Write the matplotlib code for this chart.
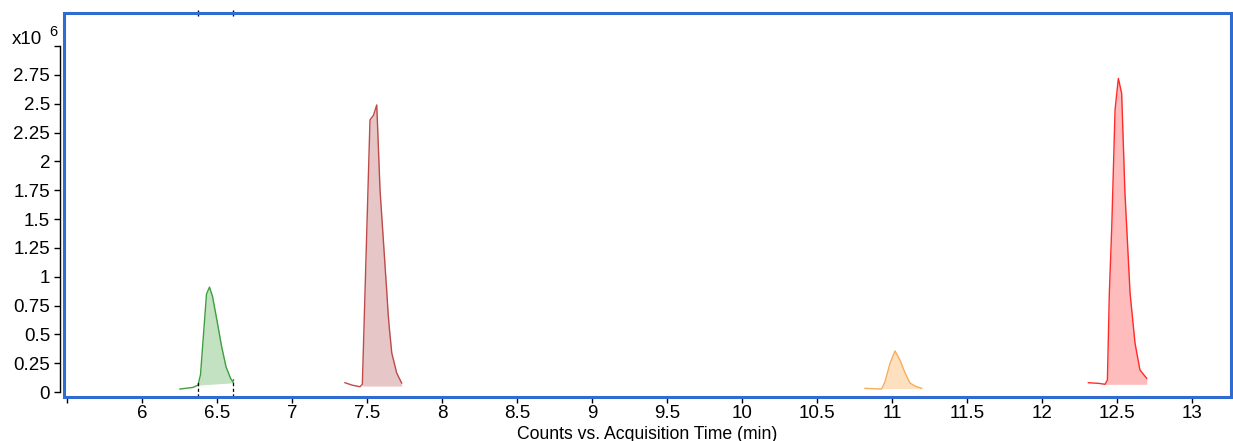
import numpy as np
import matplotlib.pyplot as plt
from matplotlib.patches import Rectangle

plt.rcParams['font.family'] = ['Liberation Sans', 'DejaVu Sans']

# acquisition time (min) and counts (x10^6) for each peak
t_green = [6.253, 6.34, 6.373, 6.39, 6.41, 6.43, 6.45, 6.47, 6.50, 6.53, 6.56, 6.59, 6.61]
v_green = [0.026, 0.04, 0.06, 0.15, 0.50, 0.85, 0.91, 0.83, 0.62, 0.40, 0.22, 0.12, 0.08]

t_brown = [7.353, 7.40, 7.453, 7.469, 7.52, 7.543, 7.565, 7.587, 7.631, 7.641, 7.65, 7.665, 7.698, 7.731]
v_brown = [0.081, 0.06, 0.046, 0.067, 2.36, 2.40, 2.49, 1.75, 0.885, 0.68, 0.54, 0.34, 0.165, 0.078]

t_orange = [10.82, 10.931, 10.953, 10.987, 11.02, 11.053, 11.087, 11.12, 11.153, 11.198]
v_orange = [0.032, 0.026, 0.089, 0.25, 0.356, 0.278, 0.165, 0.078, 0.052, 0.032]

t_red = [12.309, 12.38, 12.42, 12.436, 12.449, 12.465, 12.487, 12.509, 12.531, 12.553, 12.587, 12.62, 12.653, 12.698]
v_red = [0.081, 0.075, 0.067, 0.104, 0.86, 1.43, 2.446, 2.72, 2.59, 1.726, 0.859, 0.425, 0.191, 0.119]

# integration windows (start, end) and baseline levels at them
win_green = (6.373, 6.607); base_green = (0.06, 0.08)
win_brown = (7.469, 7.731); base_brown = (0.052, 0.052)
win_orange = (10.931, 11.198); base_orange = (0.03, 0.03)
win_red = (12.42, 12.698); base_red = (0.067, 0.067)

peaks = [
    (t_green, v_green, win_green, base_green, '#3f9e3f', '#c2e2c2'),
    (t_brown, v_brown, win_brown, base_brown, '#bf4a4a', '#e6c6c6'),
    (t_orange, v_orange, win_orange, base_orange, '#f7ad5a', '#fde0c0'),
    (t_red, v_red, win_red, base_red, '#ff2a2a', '#ffbcbc'),
]

fig = plt.figure(figsize=(12.33, 4.41), dpi=100)
ax = fig.add_axes([64 / 1233, 1 - 397 / 441, 1167 / 1233, 384 / 441])

for t, v, win, base, lc, fc in peaks:
    t = np.array(t)
    v = np.array(v)
    tt = np.linspace(win[0], win[1], 200)
    vv = np.interp(tt, t, v)
    bb = np.interp(tt, win, base)
    ax.fill_between(tt, bb, vv, color=fc, lw=0)
    ax.plot(t, v, color=lc, lw=1)

# dashed integration markers on the first peak
for x in win_green:
    ax.plot([x, x], [-0.043, np.interp(x, t_green, v_green) + 0.03], 'k--', lw=0.9, dashes=(2.5, 2))

ax.set_xlim(5.48, 13.26)
ax.set_ylim(-0.043, 3.287)

for s in ['top', 'right', 'bottom']:
    ax.spines[s].set_visible(False)
ax.spines['left'].set_position(('outward', 3))
ax.spines['left'].set_bounds(0, 3)
ax.spines['left'].set_linewidth(1)

ax.add_patch(Rectangle((0, 0), 1, 1, transform=ax.transAxes, fill=False,
                       edgecolor='#2f6bd0', lw=2.2, clip_on=False, zorder=5))

yt = np.arange(0, 3.01, 0.25)
ax.set_yticks(yt)
ax.set_yticklabels(['0', '0.25', '0.5', '0.75', '1', '1.25', '1.5', '1.75', '2',
                    '2.25', '2.5', '2.75', ''])
xt = [5.5, 6, 6.5, 7, 7.5, 8, 8.5, 9, 9.5, 10, 10.5, 11, 11.5, 12, 12.5, 13]
ax.set_xticks(xt)
ax.set_xticklabels([''] + ['6', '6.5', '7', '7.5', '8', '8.5', '9', '9.5', '10',
                           '10.5', '11', '11.5', '12', '12.5', '13'])
ax.tick_params(axis='both', labelsize=13.5, length=4, pad=3, width=1)
ax.tick_params(axis='x', pad=2)

top = ax.secondary_xaxis('top')
top.set_xticks(list(win_green))
top.set_xticklabels(['', ''])
top.tick_params(direction='inout', length=4, width=1)
top.spines['top'].set_visible(False)

ax.set_xlabel('Counts vs. Acquisition Time (min)', fontsize=12.7, labelpad=2.5)

fig.text(12 / 1233, 1 - 44 / 441, 'x10', fontsize=13.5, va='baseline')
fig.text(49 / 1233, 1 - 36 / 441, '6', fontsize=10.5, va='baseline')

fig.savefig('out.png', dpi=100)
